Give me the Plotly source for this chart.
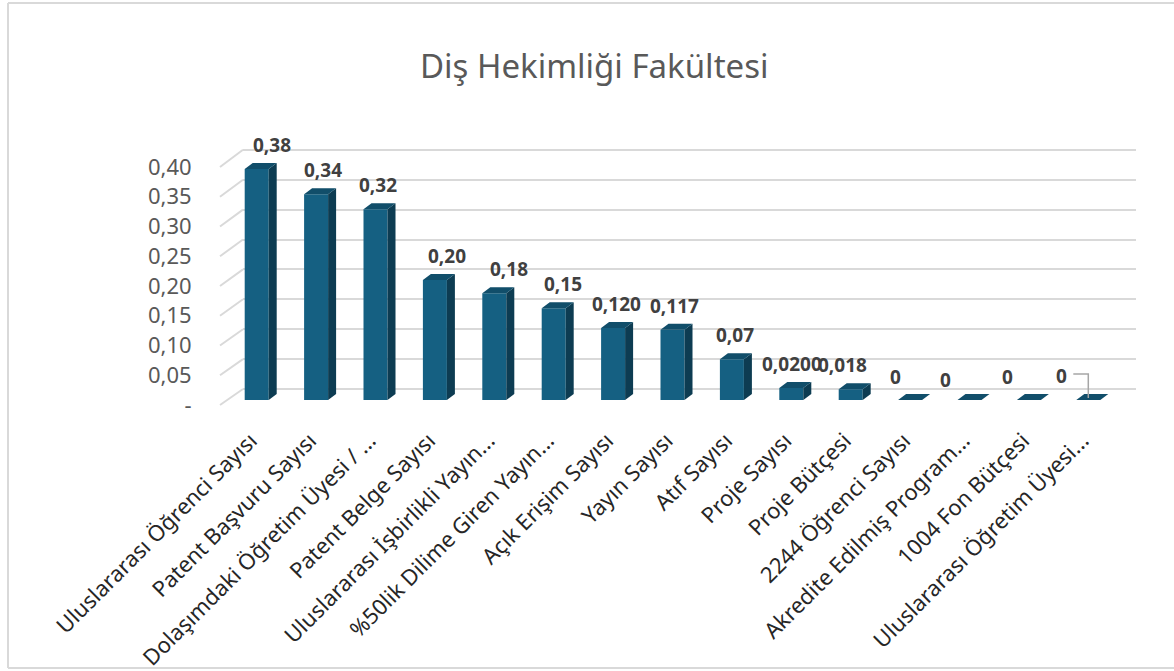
import plotly.graph_objects as go

categories = [
    "Uluslararası Öğrenci Sayısı",
    "Patent Başvuru Sayısı",
    "Dolaşımdaki Öğretim Üyesi / ...",
    "Patent Belge Sayısı",
    "Uluslararası İşbirlikli Yayın...",
    "%50lik Dilime Giren Yayın...",
    "Açık Erişim Sayısı",
    "Yayın Sayısı",
    "Atıf Sayısı",
    "Proje Sayısı",
    "Proje Bütçesi",
    "2244 Öğrenci Sayısı",
    "Akredite Edilmiş Program...",
    "1004 Fon Bütçesi",
    "Uluslararası Öğretim Üyesi...",
]
values = [0.385, 0.343, 0.318, 0.200, 0.178, 0.153, 0.120, 0.117, 0.068, 0.020, 0.018, 0.0, 0.0, 0.0, 0.0]
value_labels = ["0,38", "0,34", "0,32", "0,20", "0,18", "0,15", "0,120", "0,117", "0,07",
                "0,0200", "0,018", "0", "0", "0", "0"]
y_ticks = [0.0, 0.05, 0.10, 0.15, 0.20, 0.25, 0.30, 0.35, 0.40]
y_ticklabels = ["-", "0,05", "0,10", "0,15", "0,20", "0,25", "0,30", "0,35", "0,40"]
title_text = "Diş Hekimliği Fakültesi"

# ---- layout geometry (pixels) ----
W, H = 1174, 671
PL, PR, PT, PB = 195, 1136, 140, 410
pw, ph = PR - PL, PB - PT


def px_x(p):
    return (p - PL) / pw


def px_y(p):
    return (PB - p) / ph


CAT_PX = 59.4           # pixels per category
BAR_SCALE = 600.0       # pixels per unit (bars)
GRID_SCALE = 598.0      # back wall
LAB_SCALE = 595.0       # front (tick labels)
BAR_BASE, GRID_BASE, LAB_BASE = 400, 389, 405
BARS_L, BARS_R = 227, 1118   # pixel extent of category axis
WALL_FRONT, WALL_BACK = 220, 243

FRONT = "#156082"
SIDE = "#0D3C52"
TOP = "#114E6A"
FONT = "Noto Sans, Inter, sans-serif"

bw = 24 / CAT_PX
dx = 8 / CAT_PX
dy = 6 / BAR_SCALE
n = len(values)

fig = go.Figure()

# invisible anchor traces for each subplot / overlay axis
for xa, ya in [("x", "y"), ("x3", "y2"), ("x2", "y3")]:
    fig.add_trace(go.Scatter(x=[0], y=[0], xaxis=xa, yaxis=ya, mode="markers",
                             marker=dict(opacity=0), hoverinfo="skip", showlegend=False))

# front faces
fig.add_trace(go.Bar(x=list(range(n)), y=values, width=bw, xaxis="x2", yaxis="y2",
                     marker=dict(color=FRONT, line=dict(width=0)), showlegend=False,
                     hoverinfo="skip"))

# side faces and top faces
sx, sy, tx, ty = [], [], [], []
for i, v in enumerate(values):
    l, r = i - bw / 2, i + bw / 2
    if v > 0:
        sx += [r, r + dx, r + dx, r, r, None]
        sy += [0, dy, v + dy, v, 0, None]
    tx += [l, r, r + dx, l + dx, l, None]
    ty += [v, v, v + dy, v + dy, v, None]
fig.add_trace(go.Scatter(x=sx, y=sy, xaxis="x2", yaxis="y2", mode="lines", fill="toself",
                         fillcolor=SIDE, line=dict(width=0, color=SIDE), hoverinfo="skip",
                         showlegend=False))
fig.add_trace(go.Scatter(x=tx, y=ty, xaxis="x2", yaxis="y2", mode="lines", fill="toself",
                         fillcolor=TOP, line=dict(width=0, color=TOP), hoverinfo="skip",
                         showlegend=False))

# label offsets (px)
lbl_dx = [15, 7, 2, 12, 15, 9, 3, 2, 3, 1, -8, -15, -24, -21, -27]
lbl_dy = [24, 24, 24, 24, 24, 24, 24, 24, 24, 24, 24, 23, 20, 23, 24]

# leader line for last label
last = n - 1
ly = values[last] + (lbl_dy[last] + 2) / BAR_SCALE
fig.add_trace(go.Scatter(
    x=[last + (lbl_dx[last] + 12) / CAT_PX, last, last],
    y=[ly, ly, values[last] + 2 / BAR_SCALE],
    xaxis="x2", yaxis="y2", mode="lines", line=dict(color="#A6A6A6", width=1.5),
    hoverinfo="skip", showlegend=False))

annotations = []
for i, (v, t) in enumerate(zip(values, value_labels)):
    annotations.append(dict(x=i, y=v, xref="x2", yref="y2", text=f"<b>{t}</b>",
                            showarrow=False, xshift=lbl_dx[i], yshift=lbl_dy[i],
                            font=dict(family=FONT, size=19, color="#404040"),
                            xanchor="center", yanchor="middle"))

annotations.append(dict(x=px_x(594), y=px_y(65), xref="paper", yref="paper",
                        text=title_text, showarrow=False, xanchor="center", yanchor="middle",
                        font=dict(family=FONT, size=33, color="#595959")))

shapes = []
# side-wall diagonal gridlines
for t in y_ticks:
    shapes.append(dict(type="line", xref="paper", yref="paper", layer="below",
                       x0=px_x(WALL_FRONT), y0=px_y(LAB_BASE - t * LAB_SCALE),
                       x1=px_x(WALL_BACK), y1=px_y(GRID_BASE - t * GRID_SCALE),
                       line=dict(color="#D9D9D9", width=2)))
# chart border
shapes.append(dict(type="line", xref="paper", yref="paper", layer="below",
                   x0=px_x(8), y0=px_y(3), x1=px_x(8), y1=px_y(668),
                   line=dict(color="#D9D9D9", width=2)))
shapes.append(dict(type="line", xref="paper", yref="paper", layer="below",
                   x0=px_x(8), y0=px_y(3), x1=px_x(1180), y1=px_y(3),
                   line=dict(color="#D9D9D9", width=2)))
shapes.append(dict(type="line", xref="paper", yref="paper", layer="below",
                   x0=px_x(8), y0=px_y(668), x1=px_x(1180), y1=px_y(668),
                   line=dict(color="#D9D9D9", width=2)))

shift = 6 / CAT_PX

fig.update_layout(
    width=W, height=H,
    margin=dict(l=PL, r=W - PR, t=PT, b=H - PB, pad=0),
    paper_bgcolor="white", plot_bgcolor="rgba(0,0,0,0)",
    showlegend=False,
    annotations=annotations,
    shapes=shapes,
    xaxis=dict(domain=[px_x(WALL_BACK), 1], range=[-1, 1], visible=False, anchor="y",
               showgrid=False, zeroline=False),
    yaxis=dict(domain=[0, 1], anchor="x",
               range=[-(PB - GRID_BASE) / GRID_SCALE, (GRID_BASE - PT) / GRID_SCALE],
               tickvals=y_ticks, showticklabels=False, showgrid=True,
               gridcolor="#D9D9D9", gridwidth=2, zeroline=False, showline=False),
    xaxis2=dict(domain=[px_x(BARS_L), px_x(BARS_R)], range=[-0.5, n - 0.5], anchor="y2",
                showgrid=False, zeroline=False, showticklabels=False, showline=False),
    yaxis2=dict(domain=[0, 1], anchor="x2",
                range=[-(PB - BAR_BASE) / BAR_SCALE, (BAR_BASE - PT) / BAR_SCALE],
                showgrid=False, zeroline=False, showticklabels=False, showline=False),
    xaxis3=dict(anchor="y2", side="bottom", domain=[0, px_x(BARS_R)],
                range=[-0.5 - (BARS_L - PL) / CAT_PX, n - 0.5],
                tickmode="array", tickvals=[i - shift for i in range(n)], ticktext=categories,
                tickangle=-45, ticks="outside", ticklen=8, tickcolor="rgba(0,0,0,0)",
                showgrid=False, zeroline=False, showline=False, automargin=False,
                tickfont=dict(family=FONT, size=22, color="#262626")),
    yaxis3=dict(overlaying="y2", anchor="free", position=px_x(WALL_FRONT), side="left",
                range=[-(PB - LAB_BASE) / LAB_SCALE, (LAB_BASE - PT) / LAB_SCALE],
                tickmode="array", tickvals=y_ticks, ticktext=y_ticklabels,
                ticks="outside", ticklen=24, tickcolor="rgba(0,0,0,0)",
                showgrid=False, zeroline=False, showline=False, automargin=False,
                tickfont=dict(family=FONT, size=22, color="#595959")),
)

fig.write_html("out.html", config={"displayModeBar": False},
               post_script="document.body.style.margin='0px';")
